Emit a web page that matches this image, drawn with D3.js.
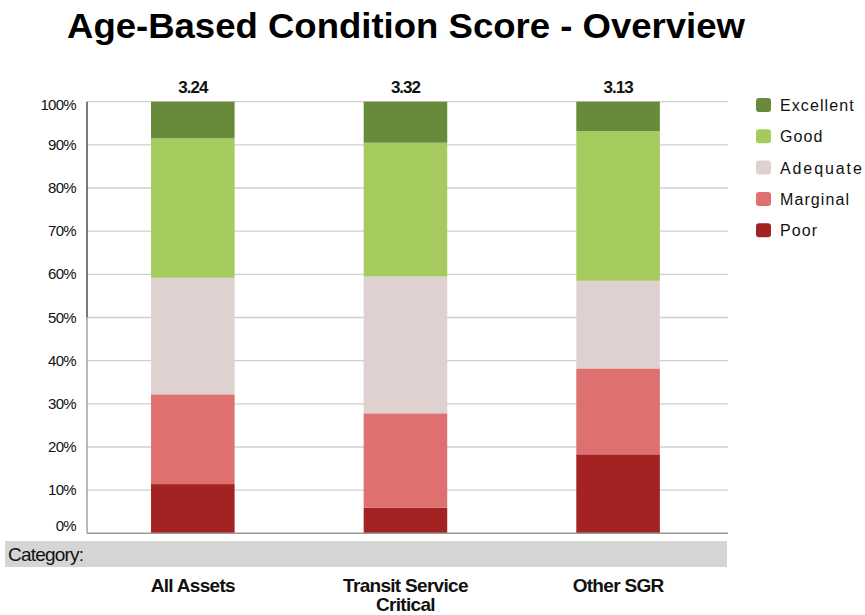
<!DOCTYPE html>
<html><head><meta charset="utf-8">
<script src="https://cdn.jsdelivr.net/npm/d3@7"></script>
<style>body{margin:0;background:#fff}svg{display:block;font-family:"Liberation Sans",Arial,sans-serif}</style>
</head><body><svg id="c" width="865" height="615"></svg>
<script>
const categories = ["All Assets", "Transit Service Critical", "Other SGR"];
const categoryLines = [["All Assets"], ["Transit Service", "Critical"], ["Other SGR"]];
const scores = ["3.24", "3.32", "3.13"];
const seriesNames = ["Poor", "Marginal", "Adequate", "Good", "Excellent"];
const poor = [11.4, 5.9, 18.3];
const marginal = [20.8, 21.9, 19.9];
const adequate = [27.0, 31.7, 20.3];
const good = [32.3, 31.0, 34.7];
const excellent = [8.5, 9.5, 6.8];
const yTicks = [0, 10, 20, 30, 40, 50, 60, 70, 80, 90, 100];
const colors = {Excellent:"#678b3b", Good:"#a5cb5f", Adequate:"#e0d1d1", Marginal:"#de7070", Poor:"#a32222"};
const legendOrder = ["Excellent", "Good", "Adequate", "Marginal", "Poor"];

const seriesVals = {Poor:poor, Marginal:marginal, Adequate:adequate, Good:good, Excellent:excellent};
const rows = categories.map((c,i)=>{const r={cat:c}; seriesNames.forEach(s=>r[s]=seriesVals[s][i]); return r;});
const stack = d3.stack().keys(seriesNames)(rows);

const svg = d3.select("#c");
const plotL = 87, plotR = 728, plotT = 101.7, plotB = 533.3;
const y = d3.scaleLinear().domain([0,100]).range([plotB, plotT]);
const x = d3.scaleBand().domain(categories).range([86.5, 724.4]).paddingInner(0.607).paddingOuter(0.3035);

// title
svg.append("text").attr("x", 406).attr("y", 37.5).attr("text-anchor","middle")
  .attr("font-size", 35).attr("font-weight","bold").attr("fill","#000")
  .attr("textLength", 678).attr("lengthAdjust","spacingAndGlyphs")
  .text("Age-Based Condition Score - Overview");

// gridlines
svg.append("g").selectAll("line").data(yTicks.filter(t=>t>0)).join("line")
  .attr("x1", plotL).attr("x2", plotR).attr("y1", d=>y(d)).attr("y2", d=>y(d))
  .attr("stroke", "#cfcfcf").attr("stroke-width", 1.3);

// y tick labels
svg.append("g").selectAll("text").data(yTicks).join("text")
  .attr("x", 76).attr("y", d=>y(d) + (d===0 ? -2 : (d===100 ? 8 : 5)))
  .attr("text-anchor","end")
  .attr("font-size", 15).attr("letter-spacing", -0.7).attr("fill","#111")
  .text(d=>d+"%");

// bars
svg.append("g").selectAll("g").data(stack).join("g")
  .attr("fill", d=>colors[d.key])
  .selectAll("rect").data(d=>d).join("rect")
  .attr("x", d=>x(d.data.cat)).attr("width", x.bandwidth())
  .attr("y", d=>y(d[1])).attr("height", d=>y(d[0])-y(d[1]));

// axes lines
svg.append("line").attr("x1", plotL).attr("x2", plotL).attr("y1", plotT).attr("y2", y(50))
  .attr("stroke", "#222").attr("stroke-width", 1.2);
svg.append("line").attr("x1", plotL).attr("x2", plotL).attr("y1", y(50)).attr("y2", plotB)
  .attr("stroke", "#8a8a8a").attr("stroke-width", 1.2);
svg.append("line").attr("x1", plotL).attr("x2", plotR).attr("y1", plotB).attr("y2", plotB)
  .attr("stroke", "#9a9a9a").attr("stroke-width", 1.5);

// score labels
svg.append("g").selectAll("text").data(categories).join("text")
  .attr("x", d=>x(d)+x.bandwidth()/2).attr("y", 93).attr("text-anchor","middle")
  .attr("font-size", 17).attr("font-weight","bold").attr("letter-spacing", -1).attr("fill","#111")
  .text((d,i)=>scores[i]);

// category band
svg.append("rect").attr("x", 5).attr("y", 541).attr("width", 722).attr("height", 26).attr("fill", "#d5d5d5");
svg.append("text").attr("x", 8).attr("y", 561).attr("font-size", 19).attr("letter-spacing", -0.8)
  .attr("fill","#111").text("Category:");

// category labels
const cl = svg.append("g").selectAll("text").data(categories).join("text")
  .attr("x", d=>x(d)+x.bandwidth()/2).attr("y", 591.5).attr("text-anchor","middle")
  .attr("font-size", 19).attr("font-weight","bold").attr("letter-spacing", -0.7).attr("fill","#111");
cl.each(function(d,i){
  const t = d3.select(this);
  categoryLines[i].forEach((ln,j)=>{
    t.append("tspan").attr("x", x(d)+x.bandwidth()/2).attr("dy", j===0?0:19.5).text(ln);
  });
});

// legend
const lg = svg.append("g").selectAll("g").data(legendOrder).join("g")
  .attr("transform", (d,i)=>`translate(756,${105 + i*31.3})`);
lg.append("rect").attr("x", 0).attr("y", -7).attr("width", 15).attr("height", 14).attr("rx", 3)
  .attr("fill", d=>colors[d]);
lg.append("text").attr("x", 24).attr("y", 6).attr("font-size", 16).attr("fill","#111")
  .attr("letter-spacing", d=>d==="Adequate"?1.9:1.1).text(d=>d);
</script></body></html>
